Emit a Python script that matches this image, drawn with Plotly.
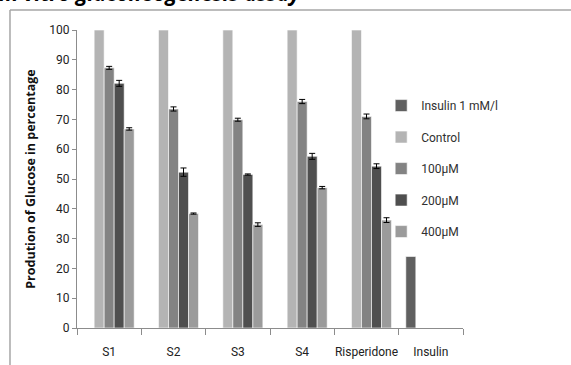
import plotly.graph_objects as go

# Categories on the x axis
categories = ["S1", "S2", "S3", "S4", "Risperidone", "Insulin"]

# Glucose production (%) per treatment group
insulin_1mm = [None, None, None, None, None, 24.0]
control = [100, 100, 100, 100, 100, None]
conc_100 = [87.3, 73.5, 69.9, 76.0, 71.0, None]
conc_200 = [82.1, 52.3, 51.5, 57.6, 54.3, None]
conc_400 = [66.8, 38.4, 34.7, 47.1, 36.2, None]

# Standard error for the concentration series
err_100 = [0.5, 0.7, 0.5, 0.7, 0.8, 0]
err_200 = [1.0, 1.4, 0.2, 1.0, 0.8, 0]
err_400 = [0.4, 0.2, 0.6, 0.4, 0.8, 0]

y_ticks = [0, 10, 20, 30, 40, 50, 60, 70, 80, 90, 100]

series = [
    ("Insulin 1 mM/l", insulin_1mm, None, "#606060"),
    ("Control", control, None, "#b4b4b4"),
    ("100µM", conc_100, err_100, "#838383"),
    ("200µM", conc_200, err_200, "#4f4f4f"),
    ("400µM", conc_400, err_400, "#9b9b9b"),
]

FONT = "Roboto, Liberation Sans, sans-serif"

fig = go.Figure()
for name, vals, errs, color in series:
    kw = {}
    if errs is not None:
        kw["error_y"] = dict(type="data", array=errs, visible=True,
                             color="black", thickness=1, width=3)
    fig.add_trace(go.Bar(
        x=categories, y=vals, name=name, legendgroup=name,
        marker=dict(color=color, line=dict(color="white", width=0.6)),
        **kw,
    ))

fig.update_layout(
    width=571, height=365,
    margin=dict(l=77, r=108, t=30, b=37, autoexpand=False),
    paper_bgcolor="white", plot_bgcolor="white",
    barmode="group", bargap=0.222, bargroupgap=0,
    font=dict(family=FONT, size=12, color="#222222"),
    legend=dict(
        x=0.788, y=0.795, xanchor="left", yanchor="top",
        font=dict(family=FONT, size=12, color="#303030"),
        tracegroupgap=12.5, traceorder="grouped",
        bgcolor="rgba(0,0,0,0)",
    ),
    showlegend=True,
)

fig.update_xaxes(
    type="category", showline=True, linecolor="#8c8c8c", linewidth=1,
    ticks="outside", tickson="boundaries", ticklen=6, tickcolor="#8c8c8c",
    ticklabelstandoff=13, showgrid=False, tickangle=0, automargin=False,
    tickfont=dict(family=FONT, size=12, color="#222222"),
)
fig.update_yaxes(
    range=[0, 100], tickvals=y_ticks, showline=True, linecolor="#8c8c8c",
    linewidth=1, ticks="outside", ticklen=4, tickcolor="#8c8c8c",
    showgrid=False, zeroline=False, automargin=False,
    tickfont=dict(family=FONT, size=12, color="#222222"),
    title=dict(text="<b>Prodution of Glucose in percentage</b>",
               font=dict(family="Open Sans, Liberation Sans, sans-serif",
                         size=12.5, color="#111111"),
               standoff=10),
)

# Chart frame (left and top edges)
fig.add_shape(type="line", xref="paper", yref="paper",
              x0=-0.1736, x1=1.5, y0=1.0672, y1=1.0672,
              line=dict(color="#a6a6a6", width=1.5))
fig.add_shape(type="line", xref="paper", yref="paper",
              x0=-0.1736, x1=-0.1736, y0=-0.3, y1=1.0672,
              line=dict(color="#a6a6a6", width=1.5))

# Figure heading
fig.add_annotation(
    text="<b><i>In vitro gluconeogenesis assay</i></b>",
    xref="paper", yref="paper", x=0.585, y=1.072,
    xanchor="right", yanchor="bottom", showarrow=False,
    font=dict(family="Open Sans, Liberation Sans, sans-serif",
              size=21, color="black"),
)

fig.write_html("out.html")
